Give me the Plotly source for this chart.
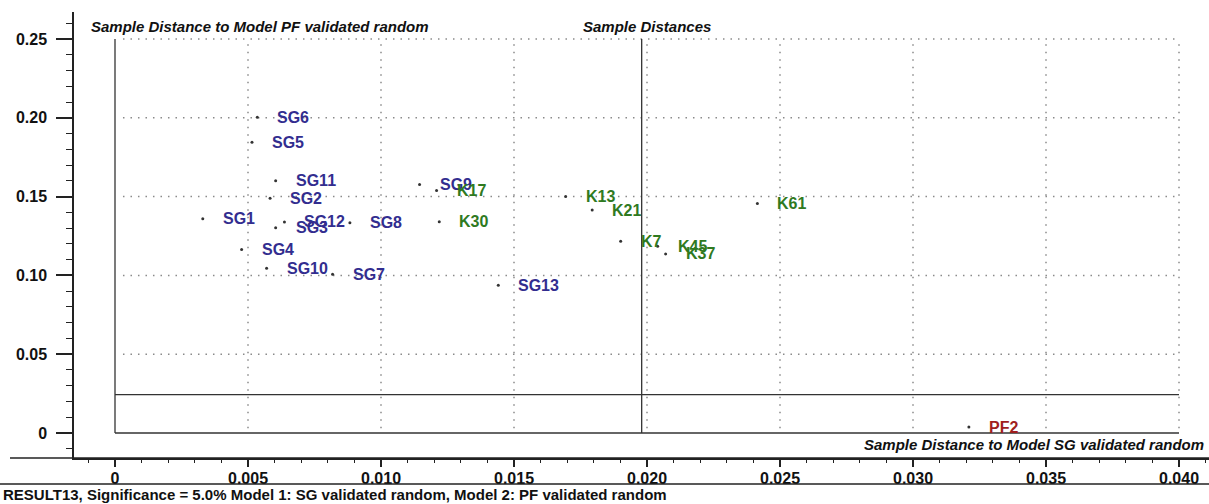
import plotly.graph_objects as go

# ---- data ----
labels = ["SG6", "SG5", "SG11", "SG2", "SG1", "SG12", "SG3", "SG8", "SG4", "SG10", "SG7",
          "SG9", "SG13",
          "K17", "K30", "K13", "K21", "K7", "K45", "K37", "K61",
          "PF2"]
x_vals = [0.00535, 0.00515, 0.00604, 0.00583, 0.00330, 0.00637, 0.00604, 0.00883, 0.00476, 0.00570, 0.00818,
          0.01145, 0.01441,
          0.01209, 0.01219, 0.01694, 0.01794, 0.01901, 0.02040, 0.02070, 0.02415,
          0.03210]
y_vals = [0.2003, 0.1845, 0.1601, 0.1489, 0.1360, 0.1339, 0.1303, 0.1334, 0.1165, 0.1045, 0.1007,
          0.1576, 0.0937,
          0.1538, 0.1341, 0.1500, 0.1415, 0.1216, 0.1185, 0.1136, 0.1457,
          0.0038]
groups = ["SG"] * 13 + ["K"] * 8 + ["PF"]

x_tick_vals = [0, 0.005, 0.010, 0.015, 0.020, 0.025, 0.030, 0.035, 0.040]
x_tick_text = ["0", "0.005", "0.010", "0.015", "0.020", "0.025", "0.030", "0.035", "0.040"]
y_tick_vals = [0, 0.05, 0.10, 0.15, 0.20, 0.25]
y_tick_text = ["0", "0.05", "0.10", "0.15", "0.20", "0.25"]

grid_x = [0.005, 0.010, 0.015, 0.020, 0.025, 0.030, 0.035, 0.040]
grid_y = [0.05, 0.10, 0.15, 0.20, 0.25]
box_x_max = 0.040
box_y_max = 0.25
threshold_x = 0.0198   # critical distance to model SG
threshold_y = 0.0243   # critical distance to model PF

title_left = "Sample Distance to Model PF validated random"
title_mid = "Sample Distances"
title_bottom = "Sample Distance to Model SG validated random"
caption = "RESULT13, Significance = 5.0% Model 1: SG validated random, Model 2: PF validated random"

# ---- style ----
group_colors = {"SG": "#322d8f", "K": "#2f7a1f", "PF": "#a01e1e"}
FONT = "Liberation Sans, Arial, sans-serif"

W, H = 1209, 504
ML, MR, MT, MB = 74, 0, 12, 46
PW, PH = W - ML - MR, H - MT - MB

def px_x(p):
    return (p - ML) / PW

def px_y(p):
    return (H - MB - p) / PH

fig = go.Figure()

# dotted grid
for gx in grid_x:
    fig.add_shape(type="line", xref="x", yref="y", x0=gx, x1=gx, y0=0.003, y1=box_y_max - 0.003,
                  line=dict(color="#8a8a8a", width=1.5, dash="1.5px,6px"), layer="below")
for gy in grid_y:
    fig.add_shape(type="line", xref="x", yref="y", x0=0.0003, x1=box_x_max, y0=gy, y1=gy,
                  line=dict(color="#8a8a8a", width=1.5, dash="1.5px,6px"), layer="below")

# solid reference lines
solid = dict(color="#333333", width=1.3)
fig.add_shape(type="line", xref="x", yref="y", x0=0, x1=0, y0=0, y1=box_y_max, line=solid)
fig.add_shape(type="line", xref="x", yref="y", x0=threshold_x, x1=threshold_x, y0=0, y1=box_y_max, line=solid)
fig.add_shape(type="line", xref="x", yref="y", x0=0, x1=box_x_max, y0=0, y1=0, line=solid)
fig.add_shape(type="line", xref="x", yref="y", x0=0, x1=box_x_max, y0=threshold_y, y1=threshold_y, line=solid)

# extended bottom axis line and separator
fig.add_shape(type="line", xref="paper", yref="paper", x0=px_x(10), x1=1, y0=0, y1=0,
              line=dict(color="#222222", width=1.5))
fig.add_shape(type="line", xref="paper", yref="paper", x0=px_x(0), x1=1, y0=px_y(484), y1=px_y(484),
              line=dict(color="#222222", width=1.5))

# points
fig.add_trace(go.Scatter(x=x_vals, y=y_vals, mode="markers",
                         marker=dict(size=3, color="#333333"),
                         hovertext=labels, showlegend=False))

# labels
for lab, xv, yv, g in zip(labels, x_vals, y_vals, groups):
    fig.add_annotation(x=xv, y=yv, xref="x", yref="y", text=lab, showarrow=False,
                       xanchor="left", yanchor="middle", xshift=18,
                       font=dict(family=FONT, size=16, color=group_colors[g], weight="bold"))

# titles
tfont = dict(family=FONT, size=15, color="#111111", weight="bold", style="italic")
fig.add_annotation(xref="paper", yref="paper", x=px_x(89), y=px_y(27), text=title_left,
                   showarrow=False, xanchor="left", yanchor="middle", font=tfont)
fig.add_annotation(xref="paper", yref="paper", x=px_x(581), y=px_y(27), text=title_mid,
                   showarrow=False, xanchor="left", yanchor="middle", font=tfont)
fig.add_annotation(xref="paper", yref="paper", x=px_x(1206), y=px_y(444), text=title_bottom,
                   showarrow=False, xanchor="right", yanchor="middle", font=tfont)
fig.add_annotation(xref="paper", yref="paper", x=px_x(1), y=px_y(495), text=caption,
                   showarrow=False, xanchor="left", yanchor="middle",
                   font=dict(family=FONT, size=15, color="#111111", weight="bold"))

tickfont = dict(family=FONT, size=16, color="#111111", weight="bold")
x_min = (ML - 115) / 26600
x_max = (W - 115) / 26600
y_min = (433 - (H - MB)) / 1576
y_max = (433 - MT) / 1576

fig.update_xaxes(range=[x_min, x_max], tickvals=x_tick_vals, ticktext=x_tick_text,
                 showgrid=False, zeroline=False, showline=True, linecolor="#222222", linewidth=1.5,
                 ticks="outside", ticklen=7, tickwidth=1.5, tickcolor="#222222",
                 ticklabelstandoff=-2,
                 minor=dict(dtick=0.001, ticks="outside", ticklen=3, tickwidth=1, tickcolor="#222222",
                            showgrid=False),
                 tickfont=tickfont, fixedrange=True)
fig.update_yaxes(range=[y_min, y_max], tickvals=y_tick_vals, ticktext=y_tick_text,
                 showgrid=False, zeroline=False, showline=True, linecolor="#222222", linewidth=1.5,
                 ticks="outside", ticklen=16, tickwidth=1.5, tickcolor="#222222",
                 ticklabelstandoff=6,
                 minor=dict(dtick=0.01, ticks="outside", ticklen=6, tickwidth=1, tickcolor="#222222",
                            showgrid=False),
                 tickfont=tickfont, fixedrange=True)

fig.update_layout(width=W, height=H, margin=dict(l=ML, r=MR, t=MT, b=MB),
                  paper_bgcolor="white", plot_bgcolor="white", showlegend=False)

fig.write_html("out.html", config={"displayModeBar": False},
               post_script="document.body.style.margin='0';document.body.style.overflow='hidden';")
